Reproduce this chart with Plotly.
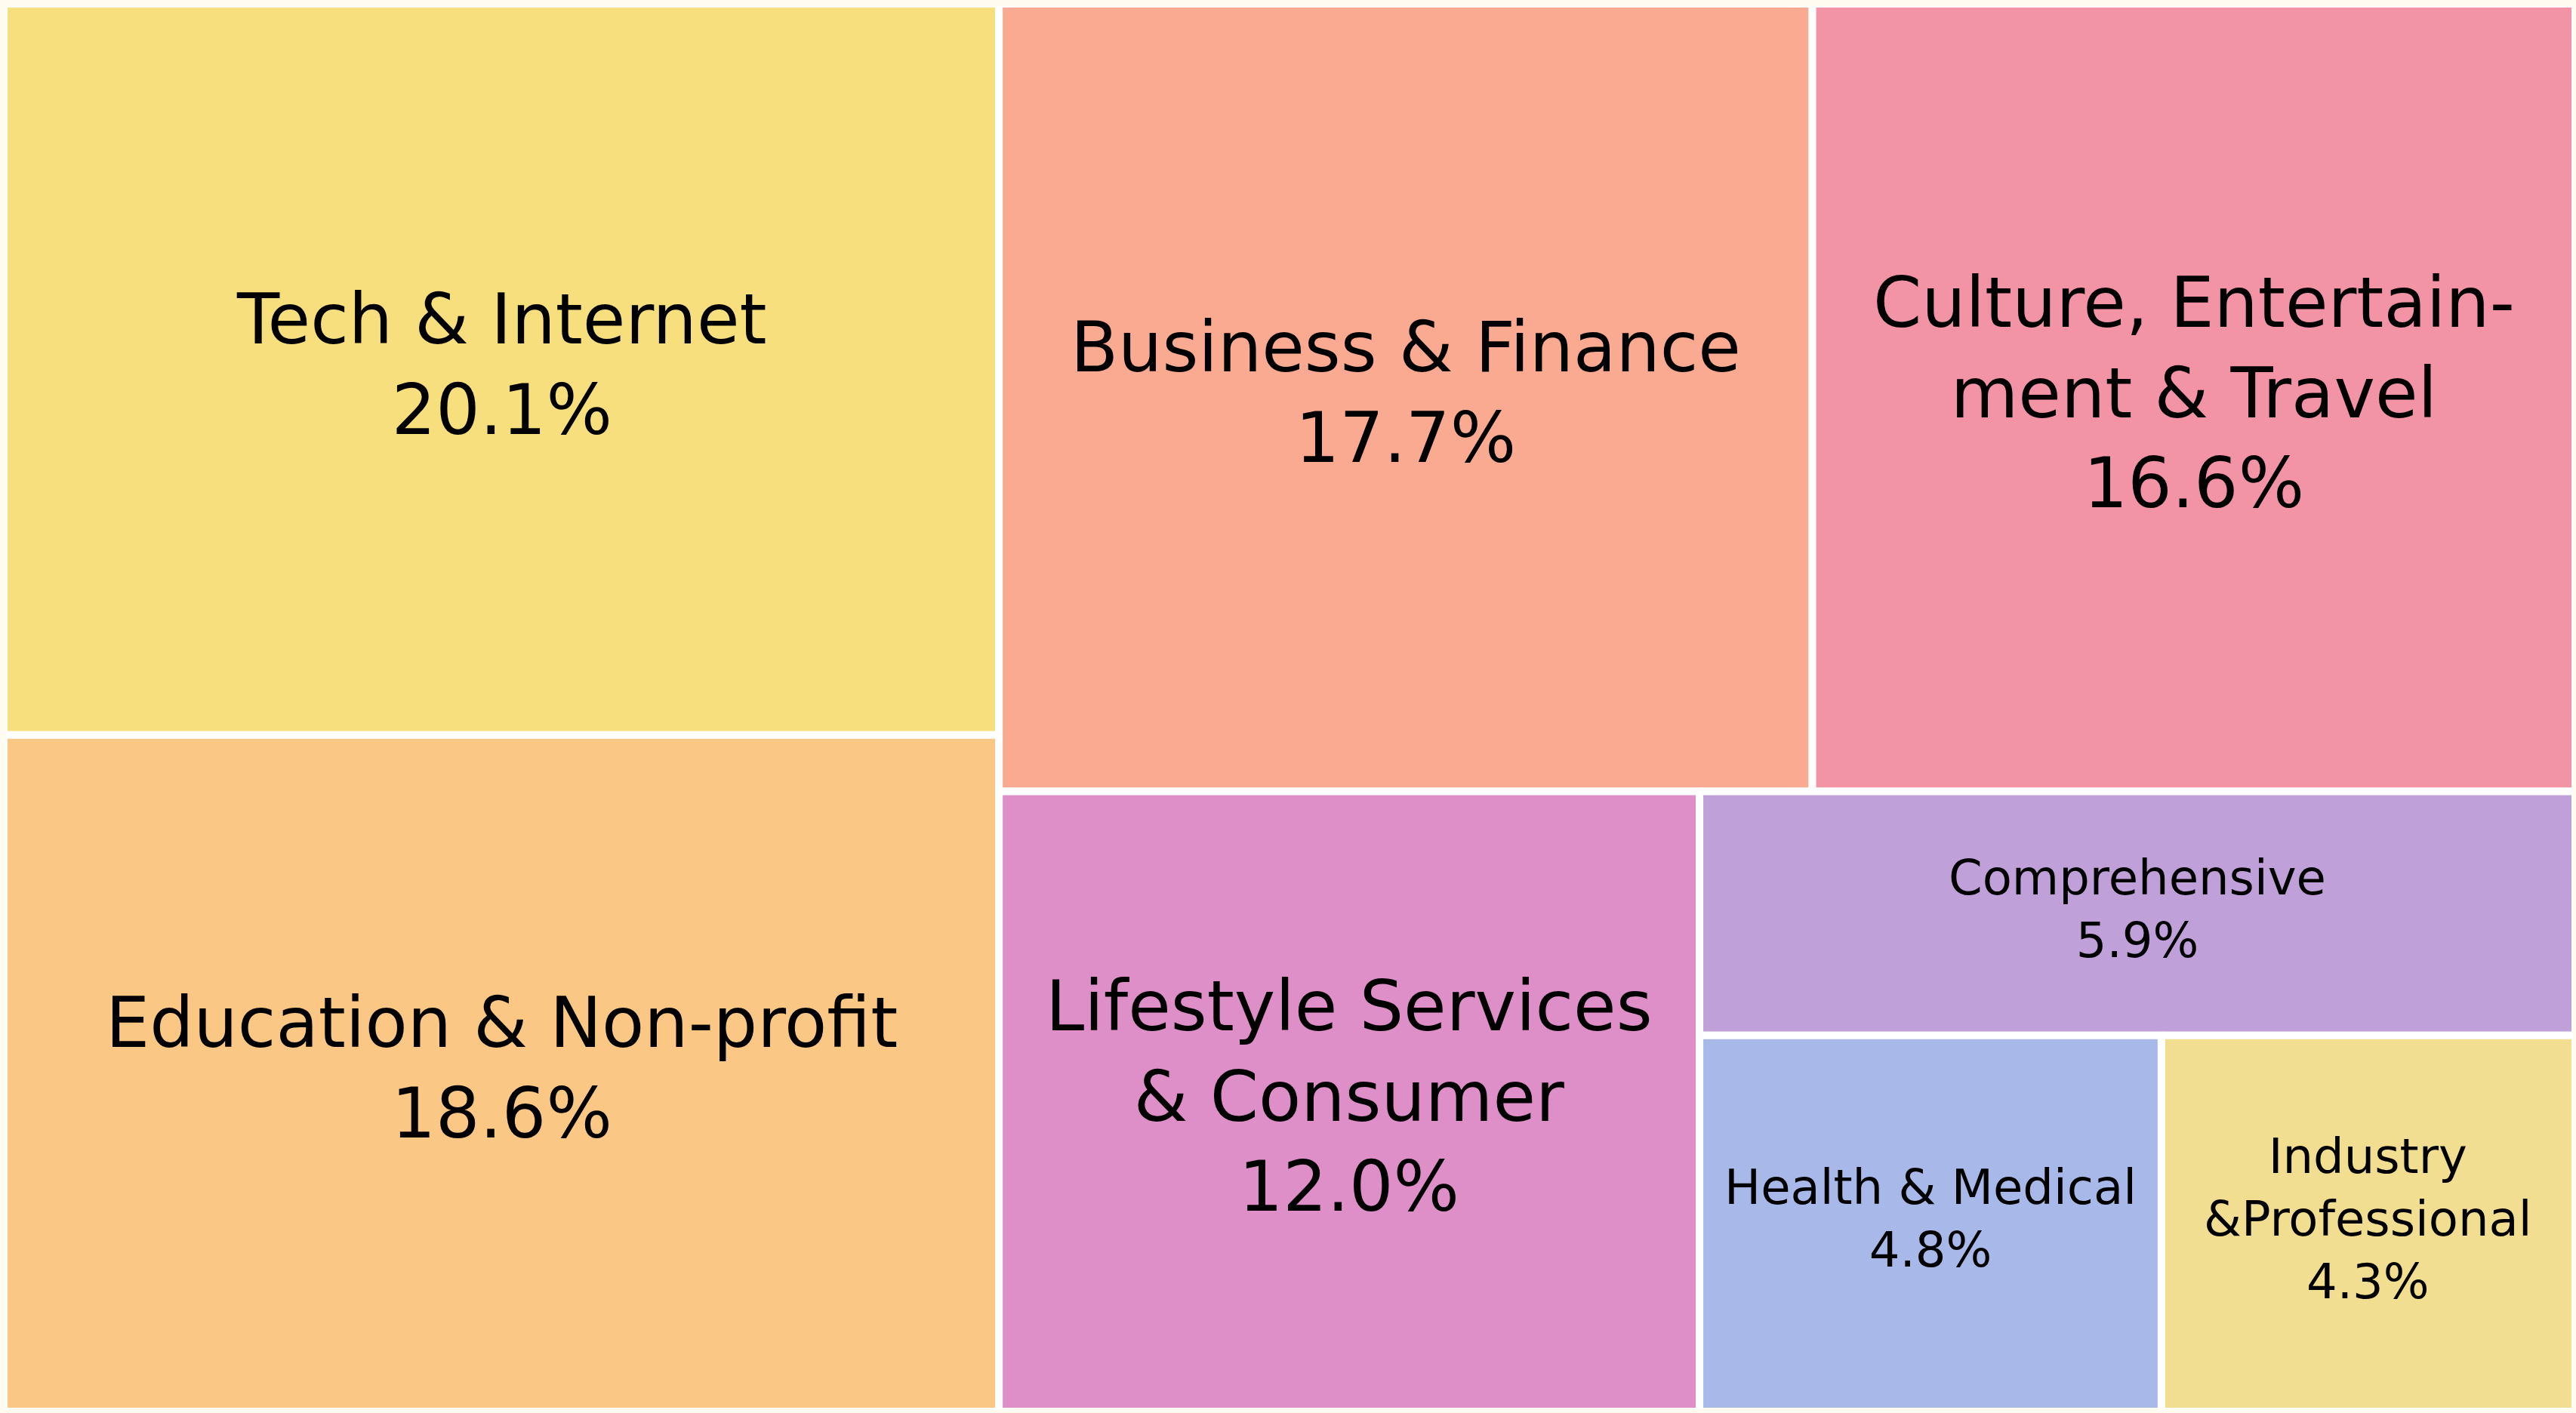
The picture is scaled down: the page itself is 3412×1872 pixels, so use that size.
import plotly.graph_objects as go

# ---- data ----
categories = [
    "Tech & Internet",
    "Education & Non-profit",
    "Business & Finance",
    "Culture, Entertain-<br>ment & Travel",
    "Lifestyle Services<br>& Consumer",
    "Comprehensive",
    "Health & Medical",
    "Industry<br>&Professional",
]
shares = [20.1, 18.6, 17.7, 16.6, 12.0, 5.9, 4.8, 4.3]
colors = ["#F7DF7D", "#FAC784", "#F9AA91", "#F394A6",
          "#DE8FC8", "#C0A0D8", "#A8B8E8", "#F1DE91"]
font_sizes = [92, 92, 92, 92, 92, 64, 64, 64]

W, H = 3412, 1872


# ---- squarify layout (same algorithm as the python `squarify` package) ----
def normalize_sizes(sizes, dx, dy):
    total = sum(sizes)
    return [s * dx * dy / total for s in sizes]


def layoutrow(sizes, x, y, dx, dy):
    width = sum(sizes) / dy
    rects = []
    for s in sizes:
        rects.append((x, y, width, s / width))
        y += s / width
    return rects


def layoutcol(sizes, x, y, dx, dy):
    height = sum(sizes) / dx
    rects = []
    for s in sizes:
        rects.append((x, y, s / height, height))
        x += s / height
    return rects


def layout(sizes, x, y, dx, dy):
    return layoutrow(sizes, x, y, dx, dy) if dx >= dy else layoutcol(sizes, x, y, dx, dy)


def leftover(sizes, x, y, dx, dy):
    if dx >= dy:
        w = sum(sizes) / dy
        return x + w, y, dx - w, dy
    h = sum(sizes) / dx
    return x, y + h, dx, dy - h


def worst_ratio(sizes, x, y, dx, dy):
    return max(max(r[2] / r[3], r[3] / r[2]) for r in layout(sizes, x, y, dx, dy))


def squarify(sizes, x, y, dx, dy):
    if not sizes:
        return []
    if len(sizes) == 1:
        return layout(sizes, x, y, dx, dy)
    i = 1
    while i < len(sizes) and worst_ratio(sizes[:i], x, y, dx, dy) >= worst_ratio(sizes[:i + 1], x, y, dx, dy):
        i += 1
    cur, rem = sizes[:i], sizes[i:]
    lx, ly, ldx, ldy = leftover(cur, x, y, dx, dy)
    return layout(cur, x, y, dx, dy) + squarify(rem, lx, ly, ldx, ldy)


rects = squarify(normalize_sizes(shares, 100, 100), 0, 0, 100, 100)

fig = go.Figure()
annotations = []
for (x, y, dx, dy), name, val, col, fs in zip(rects, categories, shares, colors, font_sizes):
    fig.add_trace(go.Scatter(
        x=[x, x + dx, x + dx, x, x],
        y=[y, y, y + dy, y + dy, y],
        mode="lines", fill="toself", fillcolor=col,
        line=dict(color="white", width=10),
        hoverinfo="skip", showlegend=False,
    ))
    annotations.append(dict(
        x=x + dx / 2, y=y + dy / 2, xref="x", yref="y",
        text=f"{name}<br>{val:.1f}%", showarrow=False,
        font=dict(family="DejaVu Sans", size=fs, color="black"),
        align="center", xanchor="center", yanchor="middle", yshift=6,
    ))

# pixel mapping: data 0..100 -> pixels 5..3411 (x), 5..1870 (y); plot area clipped slightly inside
ml, mr, mt, mb = 8, 4, 8, 5
x0p, x1p = 5, 3411
y0p, y1p = 5, 1870
xr = [(ml - x0p) * 100 / (x1p - x0p), (W - mr - x0p) * 100 / (x1p - x0p)]
yr = [(H - mb - y0p) * 100 / (y1p - y0p), (mt - y0p) * 100 / (y1p - y0p)]

fig.update_layout(
    width=W, height=H,
    margin=dict(l=ml, r=mr, t=mt, b=mb, pad=0),
    paper_bgcolor="#FFFBF0", plot_bgcolor="#FFFBF0",
    xaxis=dict(range=xr, visible=False, fixedrange=True),
    yaxis=dict(range=yr, visible=False, fixedrange=True),
    annotations=annotations,
    showlegend=False,
)
fig.write_html("out.html", config={"displayModeBar": False})
